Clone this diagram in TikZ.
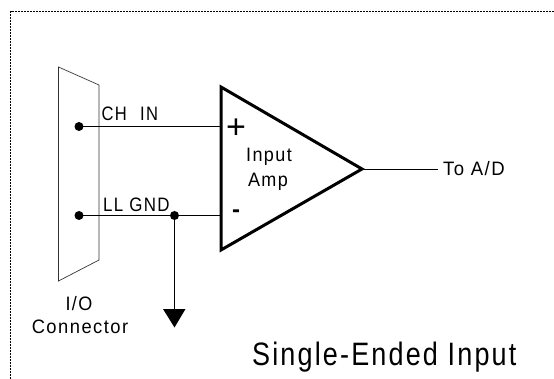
\documentclass[tikz,border=0pt]{standalone}
\usepackage{fontspec}
\setmainfont{Liberation Sans}
\newfontfamily\spaced[LetterSpace=8]{Liberation Sans}
\tikzset{
  wire/.style={line width=0.9pt,draw=black},
  dot/.style={circle,fill=black,inner sep=0pt,minimum size=9pt},
  label/.style={inner sep=0pt,anchor=base west,font=\fontsize{18}{18}\selectfont\spaced,yscale=1.08,transform shape},
  centerlabel/.style={inner sep=0pt,anchor=base,font=\fontsize{18}{18}\selectfont\spaced,yscale=1.08,transform shape},
  frame/.style={line width=0.6pt,dash pattern=on 2pt off 1pt},
}
\begin{document}
\begin{tikzpicture}[x=1pt,y=-1pt]
\useasboundingbox (0,0) rectangle (554,379);
\draw[frame] (10.5,379) -- (10.5,11.5) -- (554,11.5);
% connector
\draw[line width=0.7pt,draw=black!80] (58.5,281) -- (58.5,67) -- (99,85) -- (99,260) -- cycle;
% amplifier
\coordinate (ampin1) at (221,126.5);
\coordinate (ampin2) at (221,215.5);
\coordinate (ampout) at (362,169);
\draw[line width=3pt,line join=miter] (221,87) -- (ampout) -- (221,250) -- cycle;
% nodes
\node[dot] (d1) at (79,126.5) {};
\node[dot] (d2) at (79,215.5) {};
\node[dot] (d3) at (174.5,215.5) {};
\coordinate (g) at (174.5,310);
\coordinate (outend) at (438,169);
\draw[wire] (d1.center) -- (ampin1);
\draw[wire] (d2.center) -- (ampin2);
\draw[wire] (d3.center) -- (g);
\draw[wire] (ampout) -- (outend);
\fill (163,309) -- (185.5,309) -- (174.5,327.5) -- cycle;
% labels
\node[label,xscale=0.92] (chin) at (101.5,121) {CH\hspace{0.8em}IN};
\node[label,xscale=0.94] (llgnd) at (103,211.5) {LL GND};
\node[label,xscale=1.03] (toad) at (443,175.5) {To A/D};
\node[centerlabel] (io) at (79,310) {I/O};
\node[centerlabel,xscale=1.02] (conn) at (80,334) {Connector};
\node[centerlabel] (input) at (269,161.5) {Input};
\node[centerlabel] (amp) at (268,187) {Amp};
\node[inner sep=0pt,anchor=base west,font=\fontsize{30}{30}\selectfont\spaced,xscale=0.9,yscale=1.08,transform shape] (title) at (252,365) {Single-Ended Input};
\node[inner sep=0pt,anchor=center,font=\fontsize{34}{34}\selectfont] (plus) at (236,129) {+};
\node[inner sep=0pt,anchor=center,font=\bfseries\fontsize{24}{24}\selectfont] (minus) at (236,213.5) {-};
\end{tikzpicture}
\end{document}
